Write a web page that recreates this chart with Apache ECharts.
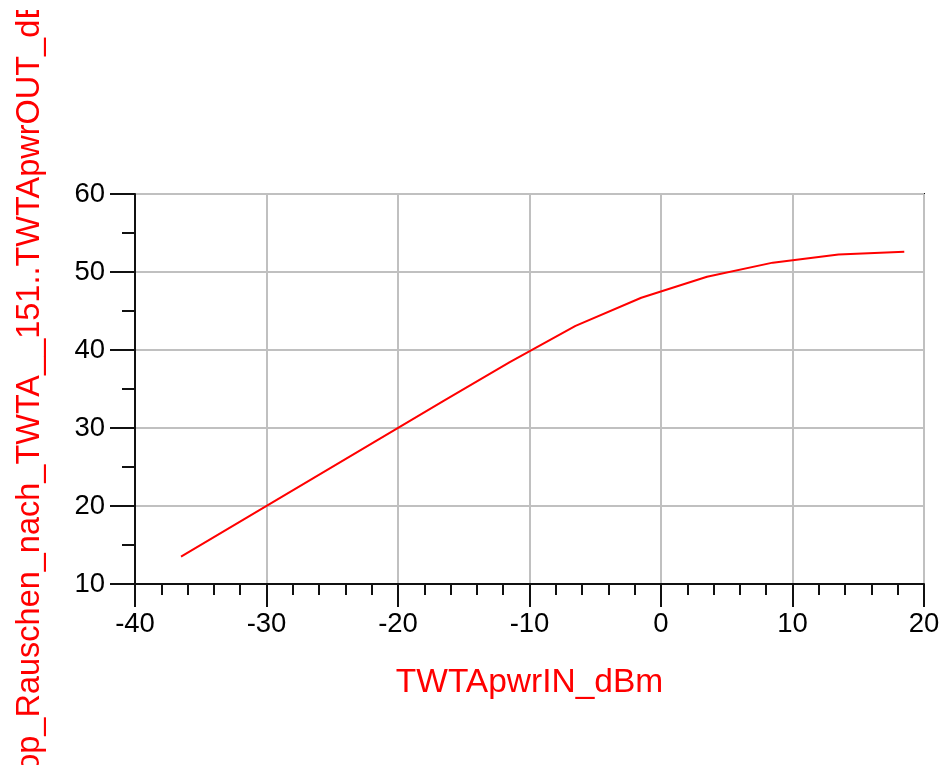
<!DOCTYPE html>
<html>
<head>
<meta charset="utf-8">
<script src="https://cdn.jsdelivr.net/npm/echarts@6/dist/echarts.min.js"></script>
<style>
html,body{margin:0;padding:0;background:#fff;}
#c{width:944px;height:765px;}
</style>
</head>
<body>
<div id="c"></div>
<script>
var xValues = [-36.5, -31.5, -26.5, -21.5, -16.5, -11.5, -6.5, -1.5, 3.5, 8.5, 13.5, 18.5];
var yValues = [13.5, 18.5, 23.5, 28.5, 33.5, 38.45, 43.1, 46.7, 49.4, 51.2, 52.25, 52.6];
var xTitle = 'TWTApwrIN_dBm';
var yTitle = 'Loop_Rauschen_nach_TWTA__151..TWTApwrOUT_dBm';

var chart = echarts.init(document.getElementById('c'), null, {renderer: 'canvas'});
var FONT = '"Liberation Sans", Arial, sans-serif';
var data = xValues.map(function (x, i) { return [x, yValues[i]]; });

chart.setOption({
  animation: false,
  backgroundColor: '#fff',
  grid: {
    left: 135, right: 20, top: 194, bottom: 181,
    show: true, borderColor: '#111', borderWidth: 2, backgroundColor: 'transparent'
  },
  xAxis: {
    type: 'value', min: -40, max: 20, interval: 10,
    axisLine: {show: true, onZero: false, lineStyle: {color: '#111', width: 2}},
    axisTick: {show: true, inside: false, length: 23, lineStyle: {color: '#111', width: 2}},
    minorTick: {show: true, splitNumber: 5, length: 11, lineStyle: {color: '#111', width: 2}},
    splitLine: {show: true, lineStyle: {color: '#c0c0c0', width: 2}},
    axisLabel: {color: '#000', fontSize: 27.5, fontFamily: FONT, margin: 26},
    name: xTitle, nameLocation: 'middle', nameGap: 82,
    nameTextStyle: {color: '#ff0000', fontSize: 33.5, fontFamily: FONT}
  },
  yAxis: {
    type: 'value', min: 10, max: 60, interval: 10,
    axisLine: {show: true, onZero: false, lineStyle: {color: '#111', width: 2}},
    axisTick: {show: true, inside: false, length: 25, lineStyle: {color: '#111', width: 2}},
    minorTick: {show: true, splitNumber: 2, length: 13, lineStyle: {color: '#111', width: 2}},
    splitLine: {show: true, lineStyle: {color: '#c0c0c0', width: 2}},
    axisLabel: {color: '#000', fontSize: 27.5, fontFamily: FONT, margin: 30}
  },
  graphic: [
    {
      type: 'text', x: 30, y: -29, rotation: Math.PI / 2, z: 10,
      style: {text: yTitle, fill: '#ff0000', fontSize: 32.5, fontFamily: FONT,
              align: 'right', verticalAlign: 'middle'}
    },
    {
      type: 'rect', z: 20, shape: {x: 0, y: 0, width: 70, height: 10},
      style: {fill: '#fff'}
    }
  ],
  series: [{
    type: 'line', data: data, showSymbol: false, symbol: 'none',
    lineStyle: {color: '#ff0000', width: 2}, z: 5
  }]
});
</script>
</body>
</html>
